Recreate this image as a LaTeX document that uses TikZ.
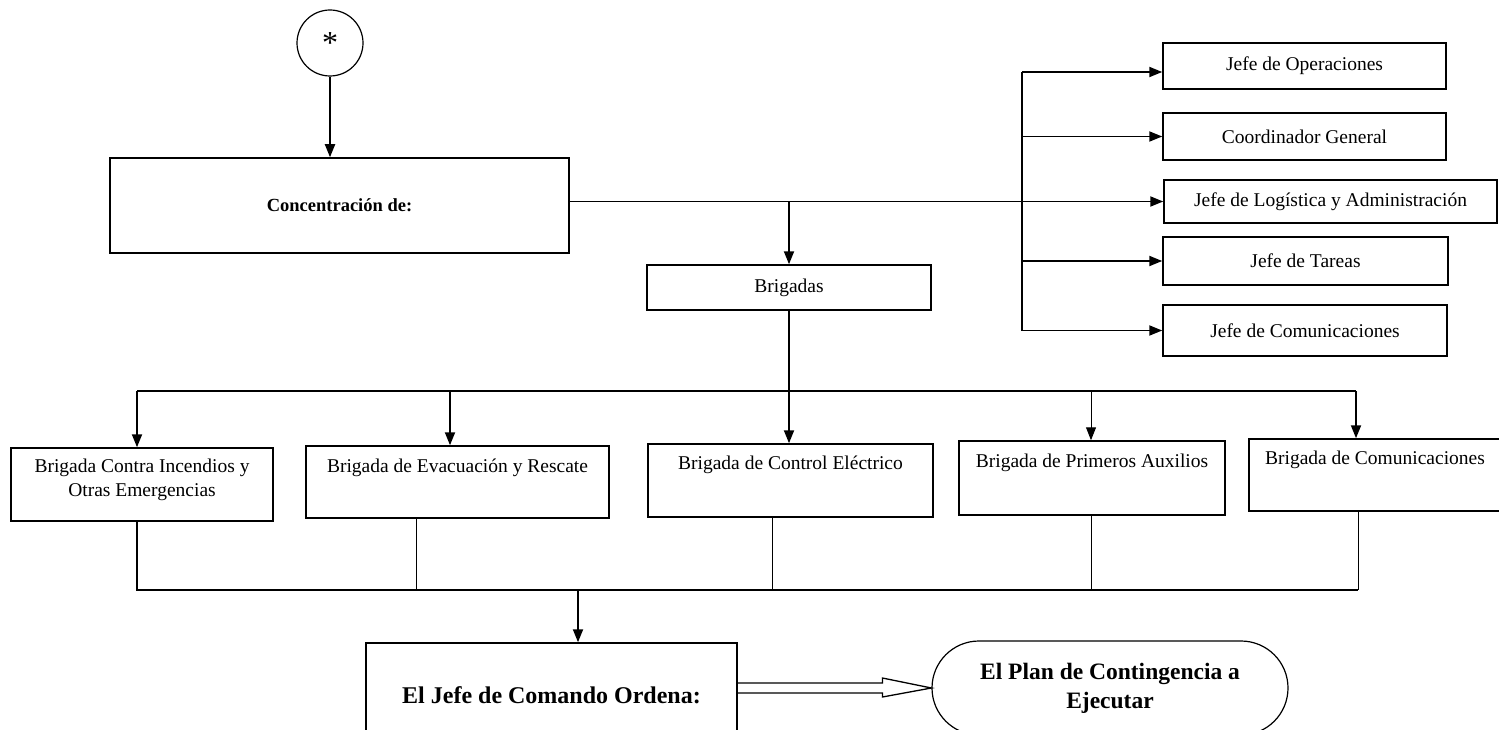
\documentclass[tikz,border=0pt]{standalone}
\usepackage{fontspec}
\setmainfont{Liberation Serif}
\usetikzlibrary{arrows.meta,calc}
\begin{document}
\begin{tikzpicture}[x=1pt,y=-1pt,
  box/.style={draw,line width=1.5pt,inner sep=0pt},
  arr/.style={line width=1.9pt,-{Triangle[length=13pt,width=10pt]}},
  tarr/.style={line width=1pt,-{Triangle[length=13pt,width=10pt]}},
  ln/.style={line width=1.9pt},
  thinln/.style={line width=0.8pt},
  txt/.style={font=\fontsize{19.5}{24}\selectfont,align=center,inner sep=0pt}]
\useasboundingbox (0,0) rectangle (1499,730);
\clip (0,0) rectangle (1499,730);
\fill[white] (0,0) rectangle (1499,730);

% start circle
\node[draw,circle,line width=1.2pt,minimum size=66pt,inner sep=0pt,
      font=\fontsize{32}{32}\selectfont] (star) at (330,43) {*};

% concentracion
\node[box,minimum width=459pt,minimum height=95pt,
      font=\fontsize{18.5}{22}\selectfont\bfseries] (conc) at (339.5,205.5) {Concentración de:};

% right column
\node[box,minimum width=283pt,minimum height=46pt,txt] (op) at (1304.5,66) {Jefe de Operaciones};
\node[box,minimum width=283pt,minimum height=47pt,txt] (coord) at (1304.5,136.5) {Coordinador General};
\node[box,minimum width=333pt,minimum height=43pt,txt] (log) at (1330.5,201.5) {Jefe de Logística y Administración};
\node[box,minimum width=285pt,minimum height=48pt,txt] (tar) at (1305.5,261) {Jefe de Tareas};
\node[box,minimum width=284pt,minimum height=51pt,txt] (com) at (1305,330.5) {Jefe de Comunicaciones};

% brigadas
\node[box,minimum width=284pt,minimum height=45pt,txt] (brig) at (789,287.5) {Brigadas};

% brigade boxes
\node[box,minimum width=262pt,minimum height=73pt] (b1) at (142,484.5) {};
\node[box,minimum width=303pt,minimum height=72pt] (b2) at (457.5,482) {};
\node[box,minimum width=285pt,minimum height=73pt] (b3) at (790.5,480.5) {};
\node[box,minimum width=266pt,minimum height=74pt] (b4) at (1092,478) {};
\node[box,minimum width=271pt,minimum height=72pt] (b5) at (1384.5,475) {};
\node[txt] (b1t) at (142,480) {Brigada Contra Incendios y\\Otras Emergencias};
\node[txt] (b2t) at (457.5,468) {Brigada de Evacuación y Rescate};
\node[txt] (b3t) at (790.5,465) {Brigada de Control Eléctrico};
\node[txt] (b4t) at (1092,463) {Brigada de Primeros Auxilios};
\node[txt] (b5t) at (1375,460) {Brigada de Comunicaciones};

% bottom
\node[box,minimum width=371pt,minimum height=90pt] (jefe) at (551.5,688) {};
\node[font=\fontsize{24}{28}\selectfont\bfseries,inner sep=0pt] (jefet) at (551.5,695) {El Jefe de Comando Ordena:};
\node[draw,line width=1.2pt,rounded corners=47pt,minimum width=356pt,minimum height=94pt,
      align=center,inner sep=0pt,font=\fontsize{23.5}{29}\selectfont\bfseries] (plan) at (1110,688)
      {El Plan de Contingencia a\\Ejecutar};

% connectors: top
\draw[arr] (star.south) -- (star.south |- conc.north);
\draw[arr] (conc.east |- log.west) -- (log.west);
\coordinate (rbus) at (1022,72);
\draw[ln] (rbus) -- (rbus |- com.west);
\draw[arr] (rbus) -- (rbus -| op.west);
\draw[arr] (rbus |- coord.west) -- (coord.west);
\draw[arr] (rbus |- tar.west) -- (tar.west);
\draw[arr] (rbus |- com.west) -- (com.west);
\draw[arr] (brig.north |- log.west) -- (brig.north);

% brigade bus
\coordinate (t1) at (137,391);
\coordinate (t2) at (450,391);
\coordinate (t4) at (1091,391);
\coordinate (t5) at (1356,391);
\draw[ln] (t1) -- (t5);
\draw[arr] (brig.south) -- (brig.south |- b3.north);
\draw[arr] (t1) -- (t1 |- b1.north);
\draw[arr] (t2) -- (t2 |- b2.north);
\draw[tarr] (t4) -- (t4 |- b4.north);
\draw[arr] (t5) -- (t5 |- b5.north);

% collecting bus
\coordinate (c1) at (137,590);
\coordinate (c2) at (416,590);
\coordinate (c3) at (772,590);
\coordinate (c4) at (1091,590);
\coordinate (c5) at (1358,590);
\coordinate (c0) at (578,590);
\draw[ln] (b1.south -| c1) -- (c1) -- (c5);
\draw[thinln] (b2.south -| c2) -- (c2);
\draw[thinln] (b3.south -| c3) -- (c3);
\draw[thinln] (b4.south -| c4) -- (c4);
\draw[thinln] (b5.south -| c5) -- (c5);
\draw[arr] (c0) -- (c0 |- jefe.north);

% hollow double arrow
\draw[line width=1.3pt,line join=miter]
  ($(jefe.east)+(0,-5)$) -- ($(plan.west)+(-49,-5)$) -- ($(plan.west)+(-49,-10)$)
  -- (plan.west) -- ($(plan.west)+(-49,9)$) -- ($(plan.west)+(-49,5)$) -- ($(jefe.east)+(0,5)$);
\end{tikzpicture}
\end{document}
